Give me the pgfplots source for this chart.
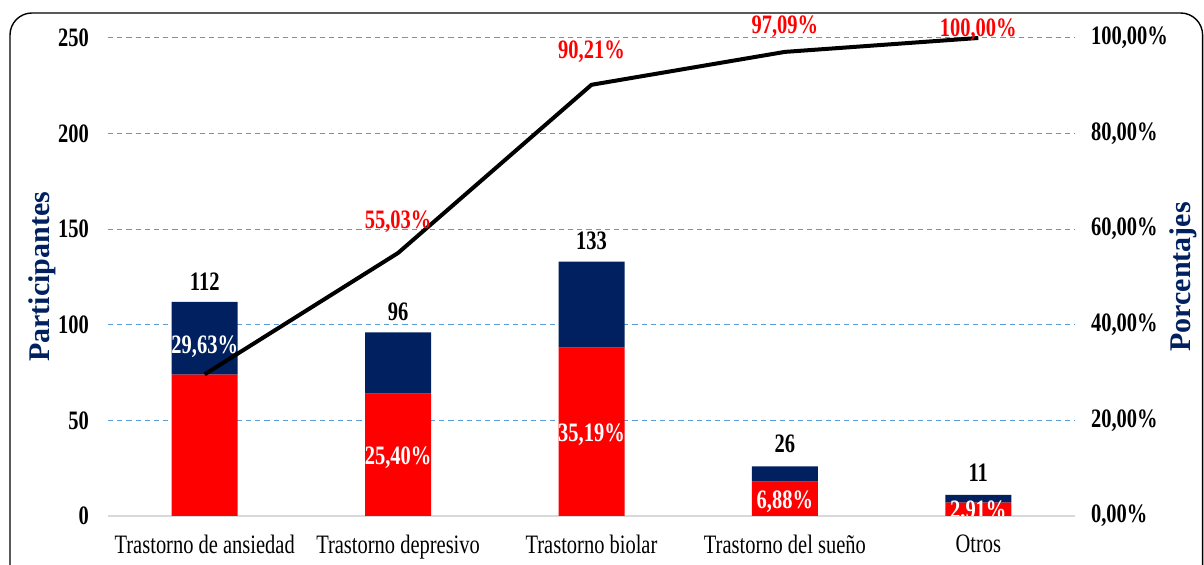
\documentclass[border=0pt]{standalone}
\usepackage{pgfplots}
\pgfplotsset{compat=1.18}
\usepackage{fontspec}
\setmainfont{Liberation Serif}[FakeStretch=0.77]
\newfontfamily\titlefont{Liberation Serif}
\definecolor{navy}{HTML}{002060}
\definecolor{gridblue}{HTML}{5B9BD5}
\definecolor{axgray}{HTML}{D9D9D9}
\newcommand{\lbl}{\fontsize{13.3}{16}\selectfont\bfseries}
\begin{document}
\begin{tikzpicture}
\useasboundingbox (-54pt,-24.5pt) rectangle (548pt,258pt);
\draw[line width=0.7pt, rounded corners=11pt] (-49pt,-40pt) rectangle (547.3pt,251.5pt);

\begin{axis}[
    at={(0pt,0pt)}, anchor=south west,
    scale only axis, width=483.5pt, height=239pt,
    xmin=-0.5, xmax=4.5, ymin=0, ymax=250,
    ybar stacked, bar width=33pt,
    axis x line*=bottom, axis y line*=left,
    x axis line style={draw=axgray, line width=0.7pt},
    y axis line style={draw=none},
    major tick length=0pt,
    xtick={0,1,2,3,4},
    xticklabels={Trastorno de ansiedad, Trastorno depresivo, Trastorno biolar, Trastorno del sueño, Otros},
    x tick label style={font=\fontsize{13.3}{16}\selectfont, yshift=-6pt},
    ytick={0,50,100,150,200,250},
    y tick label style={font=\lbl, xshift=-6pt},
    /pgf/number format/assume math mode=true,
    ymajorgrids,
    grid style={gridblue, dash pattern=on 2.6pt off 2pt, line width=0.5pt},
    ylabel={\titlefont\bfseries Participantes},
    ylabel style={at={(axis description cs:-0.0683,0.5)}, anchor=center,
        font=\fontsize{15}{17}\selectfont, text=navy},
    clip=false,
]
\addplot[fill=red, draw=none] coordinates {(0,74) (1,64) (2,88) (3,18) (4,7)};
\addplot[fill=navy, draw=none] coordinates {(0,38) (1,32) (2,45) (3,8) (4,4)};

% totales
\node[font=\lbl] at (axis cs:0,122.5) {112};
\node[font=\lbl] at (axis cs:1,106.9) {96};
\node[font=\lbl] at (axis cs:2,143.8) {133};
\node[font=\lbl] at (axis cs:3,38) {26};
\node[font=\lbl] at (axis cs:4,22.5) {11};
\end{axis}

\begin{axis}[
    at={(0pt,0pt)}, anchor=south west,
    scale only axis, width=483.5pt, height=239pt,
    xmin=-0.5, xmax=4.5, ymin=0, ymax=100,
    axis x line=none, axis y line*=right,
    y axis line style={draw=none},
    major tick length=0pt,
    ytick={0,20,40,60,80,100},
    yticklabel={\pgfmathprintnumber[fixed,fixed zerofill,precision=2,use comma]{\tick}\%},
    y tick label style={font=\lbl, xshift=4.5pt},
    /pgf/number format/assume math mode=true,
    ylabel={\titlefont\bfseries Porcentajes},
    ylabel style={at={(axis description cs:1.1117,0.5)}, anchor=center, rotate=0,
        font=\fontsize{15}{17}\selectfont, text=navy},
    clip=false,
]
% porcentajes en barras (escala secundaria = participantes x 0.4)
\node[font=\lbl, text=white] at (axis cs:0,35.4) {29,63\%};
\node[font=\lbl, text=white] at (axis cs:1,12.1) {25,40\%};
\node[font=\lbl, text=white] at (axis cs:2,17.0) {35,19\%};
\node[font=\lbl, text=white] at (axis cs:3,2.9) {6,88\%};
\begin{scope}
  \clip (axis cs:3.5,0.15) rectangle (axis cs:4.5,10);
  \node[font=\lbl, text=white] at (axis cs:4,0.9) {2,91\%};
\end{scope}

\addplot[black, line width=2pt] coordinates {(0,29.63) (1,55.03) (2,90.21) (3,97.09) (4,100)};
\node[font=\lbl, text=red] at (axis cs:1,61.5) {55,03\%};
\node[font=\lbl, text=red] at (axis cs:2,97.1) {90,21\%};
\node[font=\lbl, text=red] at (axis cs:3,102.3) {97,09\%};
\node[font=\lbl, text=red] at (axis cs:4,101.7) {100,00\%};
\end{axis}
\end{tikzpicture}
\end{document}
